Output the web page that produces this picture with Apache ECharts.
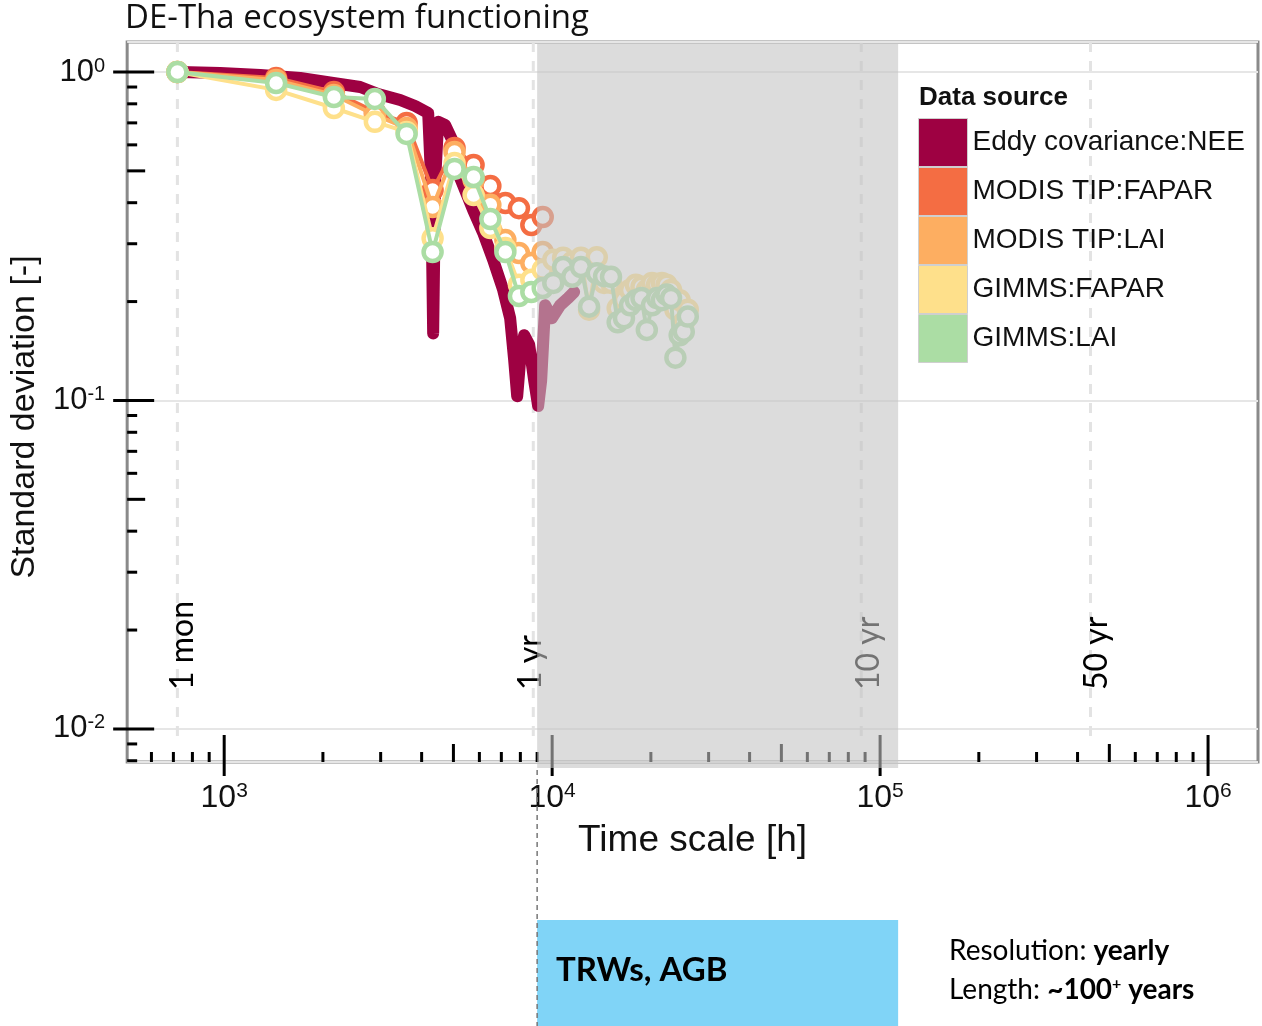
<!DOCTYPE html>
<html><head><meta charset="utf-8">
<script src="https://cdn.jsdelivr.net/npm/echarts@6/dist/echarts.min.js"></script>
<style>html,body{margin:0;padding:0;background:#fff}#c{width:1262px;height:1026px}</style>
</head><body><div id="c"></div>
<script>
// ---------------- data ----------------
const seriesNames = ['Eddy covariance:NEE', 'MODIS TIP:FAPAR', 'MODIS TIP:LAI', 'GIMMS:FAPAR', 'GIMMS:LAI'];
const seriesColors = ['#9e0142', '#f46d43', '#fdae61', '#fee08b', '#abdda4'];

const neeHours = [735, 972, 1288, 1705, 2149, 2598, 2948, 3440, 3822, 4188, 4276, 4337, 4398, 4492, 4718, 4957, 5243, 5742, 6160, 6609, 7090, 7447, 7658, 7824, 7989, 8216, 8510, 8813, 9064, 9258, 9522, 9977, 10578, 11189, 11671];
const neeSd = [1.0, 0.993, 0.979, 0.959, 0.926, 0.900, 0.857, 0.822, 0.788, 0.750, 0.469, 0.160, 0.469, 0.705, 0.690, 0.621, 0.476, 0.380, 0.324, 0.268, 0.217, 0.178, 0.133, 0.103, 0.133, 0.158, 0.148, 0.115, 0.0962, 0.115, 0.195, 0.178, 0.195, 0.205, 0.214];

const modisHours = [720, 1440, 2160, 2880, 3600, 4320, 5040, 5760, 6480, 7200, 7920, 8640, 9360];
const modisFapar = [1.0, 0.959, 0.869, 0.756, 0.699, 0.437, 0.587, 0.521, 0.450, 0.399, 0.385, 0.342, 0.362];
const modisLai = [1.0, 0.945, 0.851, 0.740, 0.675, 0.388, 0.571, 0.469, 0.394, 0.308, 0.281, 0.262, 0.283];

const gimmsHours = [720, 1440, 2160, 2880, 3600, 4320, 5040, 5760, 6480, 7200, 7920, 8640, 9360, 10080, 10800, 11520, 12240, 12960, 13680, 14400, 15120, 15840, 16560, 17280, 18000, 18720, 19440, 20160, 20880, 21600, 22320, 23040, 23760, 24480, 25200, 25920];
const gimmsFapar = [1.0, 0.882, 0.777, 0.705, 0.657, 0.312, 0.528, 0.422, 0.335, 0.291, 0.225, 0.233, 0.250, 0.268, 0.272, 0.264, 0.272, 0.189, 0.273, 0.228, 0.228, 0.191, 0.202, 0.217, 0.225, 0.222, 0.217, 0.228, 0.225, 0.228, 0.225, 0.217, 0.189, 0.202, 0.173, 0.189];
const gimmsLai = [1.0, 0.926, 0.839, 0.828, 0.648, 0.283, 0.507, 0.479, 0.357, 0.283, 0.208, 0.214, 0.220, 0.228, 0.255, 0.238, 0.255, 0.193, 0.244, 0.239, 0.238, 0.173, 0.178, 0.195, 0.202, 0.205, 0.164, 0.195, 0.205, 0.202, 0.210, 0.205, 0.135, 0.158, 0.162, 0.180];

// axis ranges and ticks
const xRange = [506, 1420000];
const yRange = [0.00793, 1.234];
const xMinorTicks = [600, 700, 800, 900, 2000, 3000, 4000, 6000, 7000, 8000, 9000, 20000, 30000, 40000, 60000, 70000, 80000, 90000, 200000, 300000, 400000, 600000, 700000, 800000, 900000];
const xMidTicks = [5000, 50000, 500000];
const xMajorTicks = [1000, 10000, 100000, 1000000];
const yMinorTicks = [0.9, 0.8, 0.7, 0.6, 0.4, 0.3, 0.2, 0.09, 0.08, 0.07, 0.06, 0.04, 0.03, 0.02, 0.009, 0.008];
const yMidTicks = [0.5, 0.05];
const yMajorTicks = [1, 0.1, 0.01];

// reference time lines
const refLineHours = [720, 8760, 87600, 438000];
const refLineLabels = ['1 mon', '1 yr', '10 yr', '50 yr'];
const refLineSpan = [1.234, 0.0093];

// highlighted range (tree-ring data coverage)
const bandHours = [9000, 113500];

// ---------------- chart ----------------
const zip = (a, b) => a.map((v, i) => [v, b[i]]);
const chart = echarts.init(document.getElementById('c'), null, {renderer: 'canvas'});

function circleSeries(name, idx, hrs, vals) {
  const c = seriesColors[idx];
  return {
    name, type: 'line', data: zip(hrs, vals), z: 2 + idx * 0.1,
    symbol: 'circle', symbolSize: 18, showAllSymbol: true, silent: true,
    itemStyle: {color: '#fff', borderColor: c, borderWidth: 4.5},
    lineStyle: {color: c, width: 4},
    emphasis: {disabled: true}
  };
}

const tickData = [
  ...xMinorTicks.map(v => [v, 1, 0, 0]),
  ...xMidTicks.map(v => [v, 1, 0, 1]),
  ...xMajorTicks.map(v => [v, 1, 0, 2]),
  ...yMinorTicks.map(v => [1000, v, 1, 0]),
  ...yMidTicks.map(v => [1000, v, 1, 1]),
  ...yMajorTicks.map(v => [1000, v, 1, 2])
];

const supLabel = (v) => '{b|10}{s|' + Math.round(Math.log10(v)) + '}';

const option = {
  animation: false,
  backgroundColor: '#fff',
  grid: {left: 127, top: 42, width: 1131, height: 720, show: true, borderColor: '#8a8a8a', borderWidth: 3, backgroundColor: 'transparent'},
  xAxis: {
    type: 'log', logBase: 10, min: xRange[0], max: xRange[1],
    axisLine: {show: false}, axisTick: {show: false}, splitLine: {show: false},
    axisLabel: {
      show: true, showMinLabel: false, showMaxLabel: false, margin: 19,
      fontSize: 32, fontFamily: 'Liberation Sans', color: '#111',
      formatter: supLabel,
      rich: {
        b: {fontSize: 32, fontFamily: 'Liberation Sans', color: '#111', lineHeight: 34},
        s: {fontSize: 21, fontFamily: 'Liberation Sans', color: '#111', verticalAlign: 'top', lineHeight: 21}
      }
    },
    name: 'Time scale [h]', nameLocation: 'middle', nameGap: 60,
    nameTextStyle: {fontSize: 37, fontFamily: 'Liberation Sans', color: '#111'}
  },
  yAxis: {
    type: 'log', logBase: 10, min: yRange[0], max: yRange[1],
    axisLine: {show: false}, axisTick: {show: false},
    splitLine: {show: true, lineStyle: {color: '#e6e6e6', width: 2}},
    axisLabel: {
      show: true, showMinLabel: false, showMaxLabel: false, margin: 22,
      fontSize: 31, fontFamily: 'Liberation Sans', color: '#111',
      formatter: supLabel,
      rich: {
        b: {fontSize: 31, fontFamily: 'Liberation Sans', color: '#111', lineHeight: 32},
        s: {fontSize: 20, fontFamily: 'Liberation Sans', color: '#111', verticalAlign: 'top', lineHeight: 20}
      }
    },
    name: 'Standard deviation [-]', nameLocation: 'middle', nameGap: 82, nameRotate: 90,
    nameTextStyle: {fontSize: 34, fontFamily: 'Liberation Sans', color: '#111', padding: [0, 30, 0, 0]}
  },
  legend: {
    orient: 'vertical', left: 918, top: 118, padding: 0, itemWidth: 49, itemHeight: 48, itemGap: 0,
    icon: 'rect', selectedMode: false,
    textStyle: {fontSize: 28, fontFamily: 'Liberation Sans', color: '#111'},
    data: seriesNames.map((n, i) => ({name: n, itemStyle: {color: seriesColors[i], borderColor: '#cfcfcf', borderWidth: 1}}))
  },
  series: [
    {
      type: 'custom', name: 'reflines', z: 1, silent: true, clip: false,
      data: refLineHours.map(h => [h, refLineSpan[0], refLineSpan[1]]),
      renderItem(params, api) {
        const p1 = api.coord([api.value(0), api.value(1)]);
        const p2 = api.coord([api.value(0), api.value(2)]);
        return {type: 'line', shape: {x1: p1[0], y1: p1[1], x2: p2[0], y2: p2[1]},
          style: {stroke: '#e3e3e3', lineWidth: 3, lineDash: [10, 9]}};
      }
    },
    {
      name: seriesNames[0], type: 'line', data: zip(neeHours, neeSd), symbol: 'none', z: 2, silent: true,
      itemStyle: {color: seriesColors[0]},
      lineStyle: {color: seriesColors[0], width: 12, cap: 'round', join: 'round'}
    },
    circleSeries(seriesNames[1], 1, modisHours, modisFapar),
    circleSeries(seriesNames[2], 2, modisHours, modisLai),
    circleSeries(seriesNames[3], 3, gimmsHours, gimmsFapar),
    circleSeries(seriesNames[4], 4, gimmsHours, gimmsLai),
    {
      type: 'custom', name: 'ticks', z: 4, silent: true, clip: false,
      data: tickData,
      renderItem(params, api) {
        const cs = params.coordSys;
        const isY = api.value(2) === 1, kind = api.value(3);
        const p = api.coord([api.value(0), api.value(1)]);
        let a, b;
        if (kind === 0) { a = 0; b = 10; } else if (kind === 1) { a = 0; b = 18; } else { a = -14; b = 27; }
        if (isY) {
          const base = cs.x;
          return {type: 'line', shape: {x1: base + a, y1: p[1], x2: base + b, y2: p[1]}, style: {stroke: '#000', lineWidth: 3}};
        }
        const base = cs.y + cs.height;
        return {type: 'line', shape: {x1: p[0], y1: base - a, x2: p[0], y2: base - b}, style: {stroke: '#000', lineWidth: 3}};
      }
    }
  ]
};
chart.setOption(option);

// ---------------- annotations ----------------
const P = (x, y) => chart.convertToPixel({gridIndex: 0}, [x, y]);
const bandL = P(bandHours[0], 1)[0];
const bandR = P(bandHours[1], 1)[0];
const labelOffsets = [5, -3, 7, 6];
const graphics = [
  {type: 'text', x: 125, y: 19, z: 20, silent: true,
    style: {text: 'DE-Tha ecosystem functioning', fontSize: 33, fontFamily: 'Open Sans', fill: '#111', textAlign: 'left', textVerticalAlign: 'middle'}},
  {type: 'text', x: 919, y: 98, z: 20, silent: true,
    style: {text: 'Data source', fontSize: 26, fontWeight: 'bold', fontFamily: 'Liberation Sans', fill: '#111', textAlign: 'left', textVerticalAlign: 'middle'}},
  {type: 'rect', z: 10, silent: true, shape: {x: bandL, y: 43, width: bandR - bandL, height: 725},
    style: {fill: 'rgba(196,196,196,0.59)'}},
  {type: 'rect', z: 10, silent: true, shape: {x: bandL, y: 920, width: bandR - bandL, height: 106},
    style: {fill: '#80d4f7'}},
  {type: 'line', z: 12, silent: true, shape: {x1: bandL, y1: 770, x2: bandL, y2: 1026},
    style: {stroke: '#777', lineWidth: 1.5, lineDash: [5, 4]}},
  {type: 'text', x: 556, y: 970, z: 13, silent: true,
    style: {text: 'TRWs, AGB', fontSize: 33, fontWeight: 'bold', fontFamily: 'Lato', fill: '#000', textAlign: 'left', textVerticalAlign: 'middle'}},
  {type: 'text', x: 949, y: 951, z: 13, silent: true,
    style: {text: '{r|Resolution: }{b|yearly}', textAlign: 'left', textVerticalAlign: 'middle',
      rich: {r: {fontSize: 28, fontFamily: 'Lato', fill: '#000'}, b: {fontSize: 28, fontFamily: 'Lato', fontWeight: 'bold', fill: '#000'}}}},
  {type: 'text', x: 949, y: 990, z: 13, silent: true,
    style: {text: '{r|Length: }{b|~100}{s|+}{b| years}', textAlign: 'left', textVerticalAlign: 'middle',
      rich: {r: {fontSize: 28, fontFamily: 'Lato', fill: '#000'}, b: {fontSize: 28, fontFamily: 'Lato', fontWeight: 'bold', fill: '#000'},
        s: {fontSize: 16, fontFamily: 'Lato', fontWeight: 'bold', fill: '#000', verticalAlign: 'top'}}}}
];
refLineHours.forEach((h, i) => {
  graphics.push({type: 'text', x: P(h, 1)[0] + labelOffsets[i], y: 690, rotation: Math.PI / 2, z: 5, silent: true,
    style: {text: refLineLabels[i], fontSize: 32, fontFamily: 'Lato', fill: '#000', textAlign: 'left', textVerticalAlign: 'middle'}});
});
chart.setOption({graphic: {elements: graphics}});
</script>
</body></html>
